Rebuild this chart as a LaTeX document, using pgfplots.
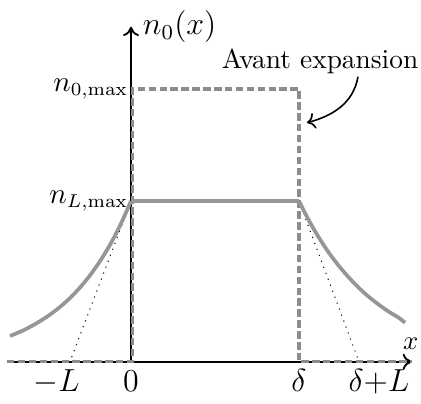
\documentclass[border=0pt]{standalone}
\usepackage{pgfplots}
\pgfplotsset{compat=1.18}
\usetikzlibrary{arrows.meta}
\definecolor{profgray}{RGB}{150,150,150}
\definecolor{dashgray}{RGB}{140,140,140}

\begin{document}
\begin{tikzpicture}
\begin{axis}[
  x=0.376pt, y=0.376pt,
  axis lines=middle,
  axis line style={black, line width=0.7pt, -{To[length=3.5pt,width=6pt]}},
  xmin=-124, xmax=281, ymin=0, ymax=335,
  xtick={-74.5,0,168,248},
  xticklabels={$-L$,$0$,$\delta$,$\delta{+}L$},
  ytick={160.7,272.7},
  yticklabels={$n_{L,\max}$,$n_{0,\max}$},
  major tick length=0pt,
  hide obscured x ticks=false,
  hide obscured y ticks=false,
  xticklabel style={anchor=base, yshift=-11.3pt, font=\fontsize{11.5}{13}\selectfont},
  yticklabel style={anchor=east, xshift=2.5pt, font=\fontsize{10.7}{12}\selectfont},
  xlabel={$x$}, ylabel={$n_0(x)$},
  xlabel style={at={(axis description cs:1,0)}, anchor=south, inner sep=0pt, xshift=-0.5pt, yshift=4.5pt},
  ylabel style={at={(axis description cs:0.306,1)}, anchor=west, rotate=0, xshift=1pt,
    font=\fontsize{11.5}{13}\selectfont},
  clip=false,
]
% avant expansion
\addplot[dashgray, line width=1.35pt, dash pattern=on 2.8pt off 1.3pt] coordinates {
  (-124,0) (1.5,0) (1.5,272.7) (168,272.7) (168,0) (281,0)
};
% tangentes
\addplot[black, line width=0.4pt, dotted] coordinates {(0,160.7) (-61,0)};
\addplot[black, line width=0.4pt, dotted] coordinates {(168,160.7) (228,0)};
% profil apres expansion
\addplot[profgray, line width=1.4pt, smooth] coordinates {
  (-121,25.7) (-110,30.3) (-100,35.3) (-90,41.1) (-80,47.8) (-70,55.6)
  (-60,64.7) (-50,75.3) (-40,87.7) (-30,102.0) (-20,118.7) (-10,138.1) (0,160.7)
};
\addplot[profgray, line width=1.4pt] coordinates {(0,160.7) (168,160.7)};
\addplot[profgray, line width=1.4pt, smooth] coordinates {
  (168,160.7) (178,141.1) (188,123.9) (198,108.8) (208,95.6) (218,84.0)
  (228,73.7) (238,64.7) (248,56.9) (258,49.9) (268,43.8) (274,39)
};
\node[inner sep=0pt, font=\fontsize{10.3}{12}\selectfont] at (axis cs:189,300) {Avant expansion};
\draw[-{To[length=3pt,width=6pt]}, line width=0.6pt] (axis cs:227,285) to[out=-100,in=15] (axis cs:176,239);
\path (axis cs:-131,361.7) rectangle (axis cs:290,-35.3);
\end{axis}
\end{tikzpicture}
\end{document}
